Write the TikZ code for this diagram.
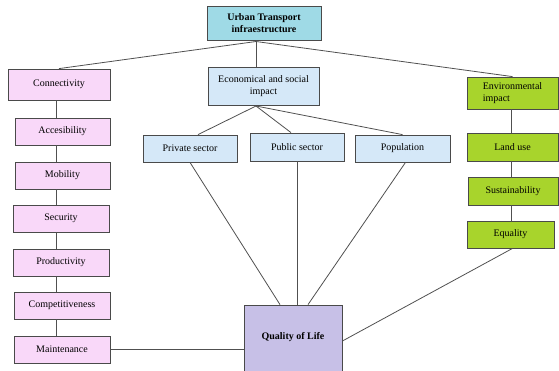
\documentclass[tikz,border=0pt]{standalone}
\usepackage{fontspec}
\setmainfont{Liberation Serif}
\usetikzlibrary{positioning}
\definecolor{topcyan}{HTML}{9FDAE6}
\definecolor{paleblue}{HTML}{D5E8F8}
\definecolor{palepink}{HTML}{F9D8F9}
\definecolor{limegreen}{HTML}{A8D42C}
\definecolor{lavender}{HTML}{C7C0E7}
\definecolor{boxline}{HTML}{4A4A4A}
\definecolor{wire}{HTML}{505050}
\tikzset{
  box/.style={draw=boxline, line width=0.8pt, inner sep=2pt, minimum height=27pt,
    font=\fontsize{10}{12.5}\selectfont, align=center},
  bluebox/.style={box, fill=paleblue},
  pinkbox/.style={box, fill=palepink, minimum width=96pt},
  greenbox/.style={box, fill=limegreen, minimum width=91pt},
  wireline/.style={draw=wire, line width=0.8pt}
}

\begin{document}
\begin{tikzpicture}[x=1pt, y=-1pt]
        \useasboundingbox (0,0) rectangle (559,370);
        % node
        \node[box, fill=topcyan, minimum width=114pt, minimum height=34pt, font=\fontsize{10}{12}\selectfont\bfseries] (urban) at (264,23) {Urban Transport\\infraestructure};
        \node[bluebox, minimum width=111pt, minimum height=38pt] (econ) at (263.5,86) {Economical and social\\impact};
        \node[bluebox, minimum width=94pt] (priv) at (190,148.5) {Private sector};
        \node[bluebox, minimum width=94pt, minimum height=28pt] (pub) at (297,147) {Public sector};
        \node[bluebox, minimum width=95pt] (popl) at (402.5,148.5) {Population};
        \node[pinkbox, minimum width=102pt, minimum height=31pt] (conn) at (59,84.5) {Connectivity};
        \node[pinkbox, minimum width=95pt] (acc) at (62.5,131.5) {Accesibility};
        \node[pinkbox, minimum width=95pt] (mob) at (62.5,175.5) {Mobility};
        \node[pinkbox] (sec) at (61,218.5) {Security};
        \node[pinkbox] (prod) at (61,262.5) {Productivity};
        \node[pinkbox] (comp) at (62,305.5) {Competitiveness};
        \node[pinkbox] (maint) at (62,349.5) {Maintenance};
        \node[greenbox, minimum height=32pt, align=left] (env) at (512.5,93) {Environmental\\impact};
        \node[greenbox, minimum height=28pt] (land) at (512.5,147) {Land use};
        \node[greenbox, minimum width=90pt, minimum height=28pt] (sust) at (513,191) {Sustainability};
        \node[greenbox, minimum width=87pt] (equal) at (510.5,234.5) {Equality};
        \node[box, fill=lavender, minimum width=98pt, inner ysep=0pt, text height=34pt, text depth=36pt,
          anchor=base, font=\fontsize{10}{12}\selectfont\bfseries] (qol) at (293,339) {Quality of Life};
        \coordinate (hub) at (256,41.5);
        \coordinate (fan) at (256,106);
        % lines
        \draw[wireline] (urban.south -| hub) -- (hub);
        \draw[wireline] (hub) -- (conn.north);
        \draw[wireline] (hub) -- (econ.north -| hub);
        \draw[wireline] (hub) -- (env.north);
        \draw[wireline] (fan) -- ([xshift=8pt]priv.north);
        \draw[wireline] (fan) -- ([xshift=-6pt]pub.north);
        \draw[wireline] (fan) -- (popl.north);
        \foreach \a/\b in {conn/acc, acc/mob, mob/sec, sec/prod, prod/comp, comp/maint}
          \draw[wireline] (\a.south -| 56,0) -- (\b.north -| 56,0);
        \foreach \a/\b in {env/land, land/sust, sust/equal}
          \draw[wireline] (\a.south -| 511,0) -- (\b.north -| 511,0);
        \draw[wireline] (maint.east) -- (maint.east -| qol.west);
        \draw[wireline] (priv.south) -- ([xshift=-13pt]qol.north);
        \draw[wireline] (pub.south) -- (pub.south |- qol.north);
        \draw[wireline] ([xshift=3pt]popl.south) -- ([xshift=15pt]qol.north);
        \draw[wireline] ([xshift=2pt]equal.south) -- ([yshift=-1pt]qol.east);
      \end{tikzpicture}
\end{document}
